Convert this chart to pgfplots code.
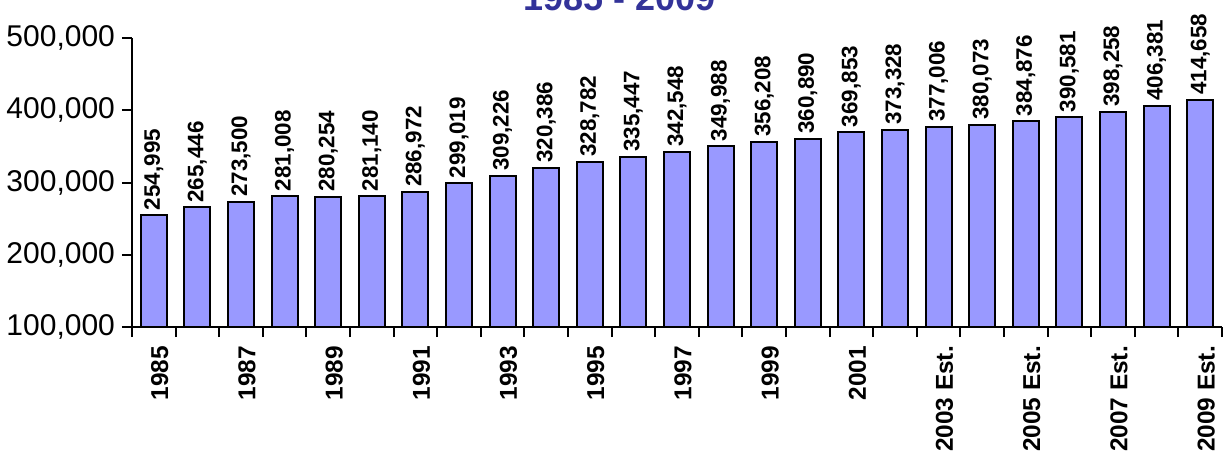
\documentclass[border=0pt]{standalone}
\usepackage{pgfplots}
\pgfplotsset{compat=1.18}
\usepackage{fontspec}
\setmainfont{Liberation Sans}
\definecolor{barblue}{HTML}{9999FF}
\definecolor{titleblue}{HTML}{333399}
\begin{document}
\begin{tikzpicture}
\begin{axis}[
  scale only axis,
  width=545pt, height=144.5pt,
  xmin=-0.5, xmax=24.5,
  ymin=100000, ymax=500000,
  axis x line*=bottom, axis y line*=left,
  axis line style={line width=1pt,-},
  every tick/.style={line width=1pt, black},
  tick align=outside,
  ytick={100000,200000,300000,400000,500000},
  major tick length=5pt,
  xtick={-0.5,0.5,...,24.5},
  xticklabel=\empty,
  extra x ticks={0,2,...,24},
  extra x tick labels={1985,1987,1989,1991,1993,1995,1997,1999,2001,2003 Est.,2005 Est.,2007 Est.,2009 Est.},
  extra x tick style={major tick length=0pt,
    xticklabel style={rotate=90, anchor=east, font=\fontsize{12.2}{14}\selectfont\bfseries, xshift=-6pt, yshift=-3pt}},
  yticklabel style={font=\fontsize{15}{17}\selectfont},
  scaled y ticks=false,
  /pgf/number format/.cd, 1000 sep={,}, fixed, assume math mode=true,
  /pgfplots/.cd,
  ybar, bar width=13pt,
  nodes near coords,
  every node near coord/.append style={rotate=90, anchor=west, font=\fontsize{11.2}{12}\selectfont\bfseries, inner sep=2pt},
]
\addplot[fill=barblue, draw=black, line width=1pt] coordinates {
(0,254995) (1,265446) (2,273500) (3,281008) (4,280254) (5,281140) (6,286972)
(7,299019) (8,309226) (9,320386) (10,328782) (11,335447) (12,342548) (13,349988)
(14,356208) (15,360890) (16,369853) (17,373328) (18,377006) (19,380073) (20,384876)
(21,390581) (22,398258) (23,406381) (24,414658)
};
\end{axis}
\node[anchor=base, text=titleblue, font=\fontsize{18}{20}\selectfont\bfseries] at ([shift={(244pt,158.5pt)}]current axis.south west) {1985 - 2009};
\pgfresetboundingbox
\path[use as bounding box] ([shift={(-66pt,-65pt)}]current axis.south west) rectangle ++(611.5pt,228.5pt);
\end{tikzpicture}
\end{document}
